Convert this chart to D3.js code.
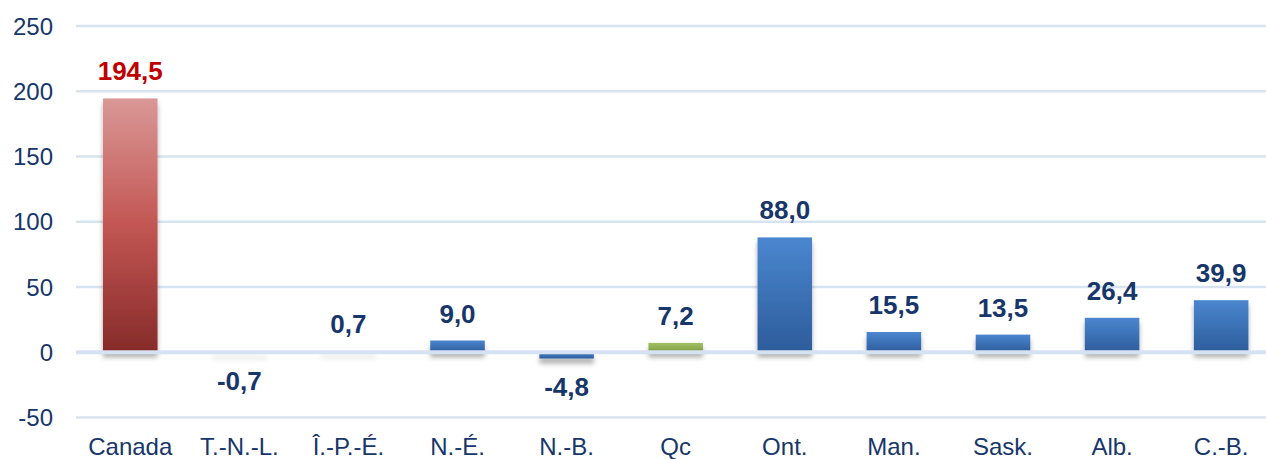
<!DOCTYPE html>
<html>
<head>
<meta charset="utf-8">
<script src="https://cdn.jsdelivr.net/npm/d3@7"></script>
<style>
  html, body { margin: 0; padding: 0; background: #fff; }
  svg { display: block; font-family: "Liberation Sans", Arial, sans-serif; }
</style>
</head>
<body>
<div id="chart"></div>
<script>
  // ---------- Data ----------
  const categories = ['Canada', 'T.-N.-L.', 'Î.-P.-É.', 'N.-É.', 'N.-B.', 'Qc', 'Ont.', 'Man.', 'Sask.', 'Alb.', 'C.-B.'];
  const values     = [194.5, -0.7, 0.7, 9.0, -4.8, 7.2, 88.0, 15.5, 13.5, 26.4, 39.9];
  const yTicks     = [-50, 0, 50, 100, 150, 200, 250];

  const W = 1266, H = 459;
  const navy = '#17366a';

  const svg = d3.select('#chart').append('svg')
    .attr('width', W).attr('height', H);

  const defs = svg.append('defs');

  // gradients for the three bar kinds
  function grad(id, stops) {
    const g = defs.append('linearGradient').attr('id', id)
      .attr('x1', 0).attr('y1', 0).attr('x2', 0).attr('y2', 1);
    stops.forEach(([o, c]) => g.append('stop').attr('offset', o).attr('stop-color', c));
  }
  grad('gRed',   [[0, '#da9896'], [0.5, '#c25653'], [1, '#862b29']]);
  grad('gBlue',  [[0, '#4a86cf'], [1, '#2d5c9b']]);
  grad('gGreen', [[0, '#a3c264'], [1, '#7c9a40']]);

  const shadow = defs.append('filter').attr('id', 'shadow')
    .attr('x', '-20%').attr('y', '-20%').attr('width', '140%').attr('height', '200%')
    .attr('filterUnits', 'userSpaceOnUse');
  shadow.attr('x', 0).attr('y', 0).attr('width', W).attr('height', H);
  shadow.append('feDropShadow')
    .attr('dx', 0).attr('dy', 5).attr('stdDeviation', 2.5)
    .attr('flood-color', '#000').attr('flood-opacity', 0.32);

  // ---------- Scales ----------
  const x = d3.scaleBand().domain(categories)
    .range([75.7, 1275.7]).paddingInner(0.5).paddingOuter(0.25);
  const y = d3.scaleLinear().domain([-50, 250]).range([417.5, 26]);

  // ---------- Gridlines ----------
  svg.append('g').selectAll('line.grid')
    .data(yTicks.filter(t => t !== 0))
    .enter().append('line')
    .attr('class', 'grid')
    .attr('x1', 76).attr('x2', W)
    .attr('y1', d => y(d)).attr('y2', d => y(d))
    .attr('stroke', '#d8e3f1').attr('stroke-width', 2.5);

  // y tick labels
  svg.append('g').selectAll('text.ytick')
    .data(yTicks)
    .enter().append('text')
    .attr('class', 'ytick')
    .attr('x', 53).attr('y', d => y(d) + 8.5)
    .attr('text-anchor', 'end')
    .attr('fill', navy)
    .style('font-size', '24px')
    .text(d => d);

  // ---------- Bars ----------
  const fillFor = (c) => c === 'Canada' ? 'url(#gRed)' : (c === 'Qc' ? 'url(#gGreen)' : 'url(#gBlue)');

  svg.append('g').selectAll('rect.bar')
    .data(categories)
    .enter().append('rect')
    .attr('class', 'bar')
    .attr('x', d => x(d))
    .attr('width', x.bandwidth())
    .attr('y', (d, i) => y(Math.max(0, values[i])))
    .attr('height', (d, i) => Math.max(1, Math.abs(y(values[i]) - y(0))))
    .attr('fill', d => fillFor(d))
    .attr('filter', 'url(#shadow)');

  // zero line drawn over the bars
  svg.append('line')
    .attr('x1', 76).attr('x2', W)
    .attr('y1', y(0)).attr('y2', y(0))
    .attr('stroke', '#d6e2f2').attr('stroke-width', 4);

  // ---------- Value labels ----------
  const fmt = v => v.toFixed(1).replace('.', ',');
  svg.append('g').selectAll('text.val')
    .data(categories)
    .enter().append('text')
    .attr('class', 'val')
    .attr('x', d => x(d) + x.bandwidth() / 2)
    .attr('y', (d, i) => values[i] >= 0 ? y(values[i]) - 18 : y(values[i]) + 37)
    .attr('text-anchor', 'middle')
    .attr('fill', d => d === 'Canada' ? '#c00000' : navy)
    .style('font-size', '26px')
    .style('font-weight', 'bold')
    .text((d, i) => fmt(values[i]));

  // ---------- Category labels ----------
  svg.append('g').selectAll('text.cat')
    .data(categories)
    .enter().append('text')
    .attr('class', 'cat')
    .attr('x', d => x(d) + x.bandwidth() / 2)
    .attr('y', 455)
    .attr('text-anchor', 'middle')
    .attr('fill', navy)
    .style('font-size', '24px')
    .text(d => d);
</script>
</body>
</html>
